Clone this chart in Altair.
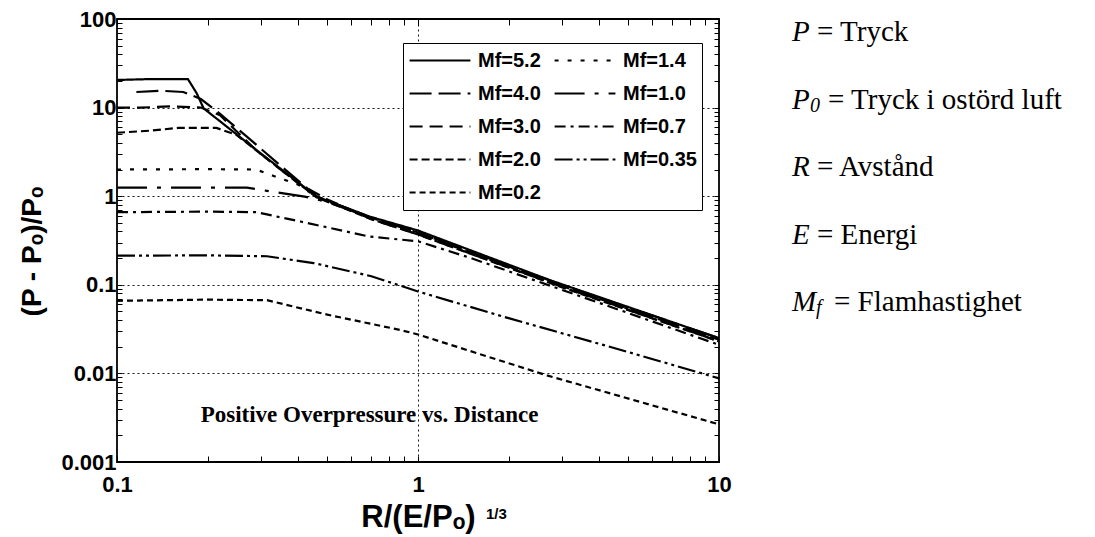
import altair as alt
import pandas as pd

# ---------------- data ----------------
mf_labels = ["Mf=5.2", "Mf=4.0", "Mf=3.0", "Mf=2.0", "Mf=1.4",
             "Mf=1.0", "Mf=0.7", "Mf=0.35", "Mf=0.2"]

x_52 = [0.1, 0.13, 0.172, 0.184, 0.194, 0.3, 0.46, 0.69, 1.0, 2.74, 10]
y_52 = [20.5, 21, 21, 14.5, 9.8, 3.05, 0.99, 0.59, 0.41, 0.113, 0.025]

x_40 = [0.116, 0.14, 0.166, 0.19, 0.22, 0.27, 0.35, 0.46, 0.7, 1.0, 2.7, 10]
y_40 = [15, 15.5, 15, 12.5, 8.5, 4.7, 2.2, 1.0, 0.57, 0.39, 0.11, 0.024]

x_30 = [0.1, 0.12, 0.15, 0.19, 0.22, 0.29, 0.4, 0.5, 0.7, 1.0, 3.0, 10]
y_30 = [10, 10, 10.3, 10, 8.2, 3.3, 1.4, 0.92, 0.55, 0.37, 0.095, 0.023]

x_20 = [0.1, 0.13, 0.16, 0.214, 0.25, 0.3, 0.46, 0.7, 1.0, 3.0, 10]
y_20 = [5.2, 5.5, 5.9, 5.9, 4.9, 3.0, 0.97, 0.55, 0.37, 0.094, 0.023]

x_14 = [0.1, 0.2, 0.29, 0.33, 0.4, 0.46, 0.7, 1.0, 3.0, 10]
y_14 = [2.0, 2.02, 2.0, 1.7, 1.35, 0.98, 0.56, 0.38, 0.097, 0.024]

x_10 = [0.1, 0.2, 0.27, 0.315, 0.42, 0.5, 0.7, 1.0, 3.0, 10]
y_10 = [1.25, 1.25, 1.25, 1.15, 0.99, 0.86, 0.57, 0.39, 0.1, 0.025]

x_07 = [0.1, 0.2, 0.29, 0.41, 0.69, 1.0, 1.5, 3.0, 10]
y_07 = [0.66, 0.67, 0.66, 0.515, 0.35, 0.31, 0.2, 0.088, 0.021]

x_035 = [0.1, 0.2, 0.315, 0.45, 0.7, 1.0, 2.0, 4.57, 10]
y_035 = [0.213, 0.215, 0.21, 0.176, 0.125, 0.084, 0.042, 0.019, 0.0088]

x_02 = [0.1, 0.2, 0.315, 0.5, 0.87, 1.0, 2.68, 10]
y_02 = [0.066, 0.068, 0.067, 0.046, 0.031, 0.0275, 0.0095, 0.00266]

annot_text = ["Positive Overpressure vs. Distance"]
annot_x = [0.69]
annot_y = [0.0034]

def_sym = ["P", "P", "R", "E", "M"]
def_sub = ["", "0", "", "", "f"]
def_rest = ["= Tryck", "= Tryck i ostörd luft", "= Avstånd", "= Energi", "= Flamhastighet"]

# ---------------- build tables ----------------
all_x = [x_52, x_40, x_30, x_20, x_14, x_10, x_07, x_035, x_02]
all_y = [y_52, y_40, y_30, y_20, y_14, y_10, y_07, y_035, y_02]
rows = []
for lab, xs, ys in zip(mf_labels, all_x, all_y):
    for i, (xv, yv) in enumerate(zip(xs, ys)):
        rows.append({"series": lab, "x": xv, "y": yv, "order": i})
df = pd.DataFrame(rows)

# legend is filled row by row: left column 5.2, 4.0, 3.0, 2.0 ; right column 1.4 ... 0.2
legend_order = ["Mf=5.2", "Mf=1.4", "Mf=4.0", "Mf=1.0", "Mf=3.0",
                "Mf=0.7", "Mf=2.0", "Mf=0.35", "Mf=0.2"]
dash_styles = {
    "Mf=5.2": [1, 0],
    "Mf=4.0": [22, 7],
    "Mf=3.0": [13, 7],
    "Mf=2.0": [8, 4],
    "Mf=1.4": [4, 9],
    "Mf=1.0": [30, 10, 4, 10],
    "Mf=0.7": [11, 5, 3, 5],
    "Mf=0.35": [18, 4, 3, 4, 3, 4],
    "Mf=0.2": [6, 4],
}

W, H = 602, 443
xs_scale = alt.Scale(type="log", domain=[0.1, 10], nice=False)
ys_scale = alt.Scale(type="log", domain=[0.001, 100], nice=False)

x_ticks = [round(m * 10 ** e, 6) for e in (-1, 0) for m in range(1, 10)] + [10]
y_ticks = [round(m * 10 ** e, 6) for e in range(-3, 2) for m in range(1, 10)] + [100]

decade = "abs(log(datum.value)/LN10 - round(log(datum.value)/LN10)) < 0.000001"
inner_decade = decade + " && datum.value > 0.0011 && datum.value < 99"
xin_decade = decade + " && datum.value > 0.11 && datum.value < 9.9"

SANS = "Liberation Sans, Arial, DejaVu Sans"
SERIF = "Liberation Serif, Times New Roman, serif"

x_axis = alt.Axis(
    values=x_ticks, labelExpr=f"({decade}) ? datum.value + '' : ''",
    labelOverlap=False, labelFlush=False, labelFont=SANS, labelFontSize=22,
    labelFontWeight="bold", labelColor="black", labelPadding=18,
    grid=True, gridColor="black", gridDash=[2, 3], gridWidth=1,
    gridOpacity={"condition": {"test": xin_decade, "value": 0.9}, "value": 0},
    tickSize={"expr": "-6"}, tickColor="black", tickWidth=1, domain=False,
    title="R/(E/Pₒ)", titleFont=SANS, titleFontSize=31, titleFontWeight="bold",
    titleColor="black", titlePadding=7,
)
y_axis = alt.Axis(
    values=y_ticks, labelExpr=f"({decade}) ? datum.value + '' : ''",
    labelOverlap=False, labelFlush=False, labelFont=SANS, labelFontSize=22,
    labelFontWeight="bold", labelColor="black", labelPadding=6,
    grid=True, gridColor="black", gridDash=[2, 3], gridWidth=1,
    gridOpacity={"condition": {"test": inner_decade, "value": 0.9}, "value": 0},
    tickSize={"expr": "-5"}, tickColor="black", tickWidth=1, domain=False,
    title="(P - Pₒ)/Pₒ", titleFont=SANS, titleFontSize=28, titleFontWeight="bold",
    titleColor="black", titlePadding=14, titleY=232,
)

lines = alt.Chart(df).mark_line(color="black", strokeWidth=2.2).encode(
    x=alt.X("x:Q", scale=xs_scale, axis=x_axis),
    y=alt.Y("y:Q", scale=ys_scale, axis=y_axis),
    order="order:Q",
    strokeDash=alt.StrokeDash(
        "series:N",
        scale=alt.Scale(domain=legend_order, range=[dash_styles[k] for k in legend_order]),
        legend=alt.Legend(
            title=None, orient="none", legendX=286, legendY=24, columns=2,
            direction="horizontal",
            strokeColor="black", fillColor="white", padding=5,
            symbolType="stroke", symbolSize=3700, symbolStrokeWidth=2.2,
            symbolStrokeColor="black", labelFont=SANS, labelFontSize=20,
            labelFontWeight="bold",
            labelColor="black", labelOffset=6, clipHeight=25, rowPadding=8,
            columnPadding=12, labelLimit=200,
        ),
    ),
)

annot = alt.Chart(pd.DataFrame({"t": annot_text, "x": annot_x, "y": annot_y})).mark_text(
    font=SERIF, fontSize=23, fontWeight="bold", color="black", align="center", baseline="middle"
).encode(x=alt.X("x:Q", scale=xs_scale), y=alt.Y("y:Q", scale=ys_scale), text="t:N")

inner = alt.layer(lines, annot)

# frame ticks on top / right
frame = alt.Chart(df[df.series == "Mf=5.2"]).mark_line(opacity=0).encode(
    x=alt.X("x:Q", scale=xs_scale, axis=alt.Axis(orient="top", values=x_ticks, labels=False,
            title=None, grid=False, tickSize={"expr": "-6"}, tickColor="black", domain=False)),
    y=alt.Y("y:Q", scale=ys_scale, axis=alt.Axis(orient="right", values=y_ticks, labels=False,
            title=None, grid=False, tickSize={"expr": "-5"}, tickColor="black", domain=False)),
)

# definitions on the right (layout positions computed here, pixel coordinates)
n = len(def_sym)
sym_w = {"P": 18, "R": 18, "E": 18, "M": 24}
defs = pd.DataFrame({
    "sym": def_sym, "sub": def_sub, "rest": def_rest,
    "px": [675] * n,
    "py": [13 + 67.5 * i for i in range(n)],
})
defs["subx"] = [675 + sym_w[s] for s in def_sym]
defs["restx"] = [675 + sym_w[s] + (11 if sb else 0) + 7 for s, sb in zip(def_sym, def_sub)]

sym_layer = alt.Chart(defs).mark_text(font=SERIF, fontSize=29, fontStyle="italic", color="black",
                                      align="left", baseline="middle").encode(
    x=alt.X("px:Q", scale=None), y=alt.Y("py:Q", scale=None), text="sym:N")
sub_layer = alt.Chart(defs[defs["sub"] != ""]).mark_text(font=SERIF, fontSize=20, fontStyle="italic",
                                                        color="black", align="left", baseline="middle", dy=6).encode(
    x=alt.X("subx:Q", scale=None), y=alt.Y("py:Q", scale=None), text="sub:N")
rest_layer = alt.Chart(defs).mark_text(font=SERIF, fontSize=29, color="black",
                                       align="left", baseline="middle").encode(
    x=alt.X("restx:Q", scale=None), y=alt.Y("py:Q", scale=None), text="rest:N")

sup = alt.Chart(pd.DataFrame({"t": ["1/3"], "px": [369], "py": [495]})).mark_text(
    font=SANS, fontSize=15, fontWeight="bold", color="black", align="left", baseline="middle").encode(
    x=alt.X("px:Q", scale=None), y=alt.Y("py:Q", scale=None), text="t:N")

chart = alt.layer(inner, frame, sym_layer, sub_layer, rest_layer, sup).resolve_scale(
    x="independent", y="independent"
).properties(
    width=W, height=H,
    autosize=alt.AutoSizeParams(type="none"),
    padding={"left": 117, "top": 19, "right": 376, "bottom": 75},
    background="white",
).configure_view(stroke="black", strokeWidth=1.8)

chart.save("out.html", embed_options={"renderer": "svg", "actions": False})
